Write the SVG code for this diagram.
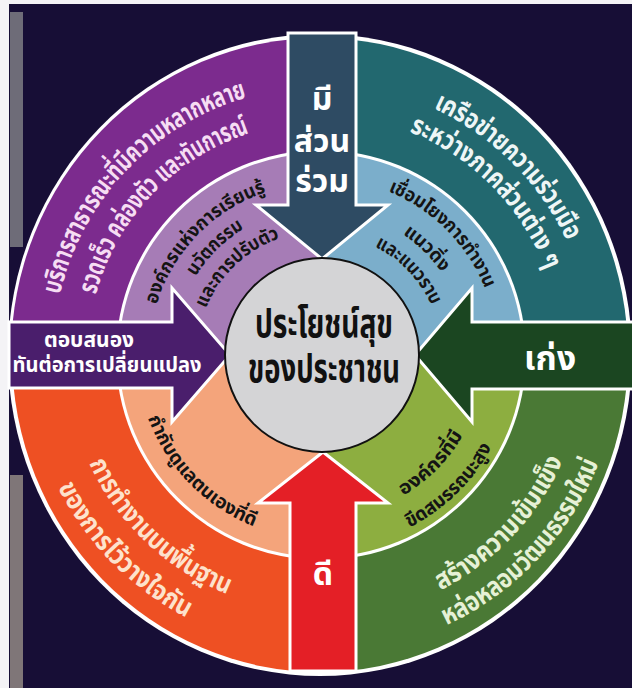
<svg xmlns="http://www.w3.org/2000/svg" width="632" height="688" viewBox="0 0 632 688">
<style>
.th{font-family:'Noto Sans Thai','Noto Sans Thai UI','Noto Sans','Loma','Garuda',sans-serif;font-weight:700}
.arw{stroke:#fff;stroke-width:3;stroke-linejoin:miter}
.in{fill:#141414;font-size:19px}
.out{font-size:27px}
.lab{fill:#fff}
</style>
<defs>
<path id="p1" d="M59.9,294.7 A268,268 0 0 1 251.6,96.1"/>
<path id="p2" d="M95.9,294.7 A233,233 0 0 1 252.9,132.2"/>
<path id="p3" d="M433.4,108.4 A271,271 0 0 1 567.6,242.6"/>
<path id="p4" d="M409.3,131.8 A240,240 0 0 1 546.4,272.5"/>
<path id="p5" d="M89,463.2 A257,257 0 0 0 229.3,595"/>
<path id="p6" d="M57.9,487.2 A295,295 0 0 0 187.5,618"/>
<path id="p7" d="M440.4,590.3 A264,264 0 0 0 564.1,457.8"/>
<path id="p8" d="M446.5,625.2 A298,298 0 0 0 600.2,459"/>
<path id="q1" d="M156.5,304.7 A172,172 0 0 1 267.8,191.4"/>
<path id="q2" d="M195.5,276.6 A148,148 0 0 1 244.8,228.1"/>
<path id="q3" d="M206,308.5 A124,124 0 0 1 280.6,237.8"/>
<path id="q4" d="M388.2,191.2 A177,177 0 0 1 485.6,289.8"/>
<path id="q5" d="M402.6,234 A146,146 0 0 1 442,273.4"/>
<path id="q6" d="M374.8,246.6 A121,121 0 0 1 431.5,305.8"/>
<path id="q7" d="M148.1,417.9 A184,184 0 0 0 255.1,526.8"/>
<path id="q8" d="M403.2,495.7 A163,163 0 0 0 463.2,434.8"/>
<path id="q9" d="M409.4,527.7 A194,194 0 0 0 492.5,445.8"/>
</defs>
<g id="background">
<rect x="0" y="0" width="632" height="688" fill="#170E36"/>
<rect x="0" y="0" width="632" height="4" fill="#F4F3F6"/>
<rect x="0" y="0" width="9" height="688" fill="#F4F3F6"/>
<rect x="10" y="12" width="13" height="235" fill="#6E6C78"/>
<rect x="10" y="475" width="13" height="213" fill="#7F7678"/>
</g>
<g id="outer-ring">
<ellipse cx="320" cy="355" rx="312" ry="321" fill="#FFFFFF"/>
<path id="sector-purple" d="M320,355 L11,355 A308,317 0 0 1 320,38 Z" fill="#7C2B8E"/>
<path id="sector-teal" d="M320,355 L320,38 A308,317 0 0 1 628,355 Z" fill="#22686F"/>
<path id="sector-green" d="M320,355 L628,355 A308,317 0 0 1 320,672 Z" fill="#4A7935"/>
<path id="sector-orange" d="M320,355 L320,672 A308,317 0 0 1 12,355 Z" fill="#EE5023"/>
</g>
<g id="inner-ring">
<circle cx="321" cy="355" r="205" fill="#FFFFFF"/>
<path id="sector-lavender" d="M321,355 L119,355 A202,202 0 0 1 321,153 Z" fill="#A67CB6"/>
<path id="sector-lightblue" d="M321,355 L321,153 A202,202 0 0 1 523,355 Z" fill="#7BAECB"/>
<path id="sector-lime" d="M321,355 L523,355 A202,202 0 0 1 321,557 Z" fill="#8DAE40"/>
<path id="sector-peach" d="M321,355 L321,557 A202,202 0 0 1 119,355 Z" fill="#F4A47B"/>
</g>
<g id="arrow-top">
<polygon class="arw" points="288,33 356,33 356,205 388,205 322,259 256,205 288,205" fill="#2E4B63"/>
<text class="th lab" font-size="32" text-anchor="middle" x="322" y="110">มี</text>
<text class="th lab" font-size="32" text-anchor="middle" x="322" y="152">ส่วน</text>
<text class="th lab" font-size="32" text-anchor="middle" x="322" y="192">ร่วม</text>
</g>
<g id="arrow-left">
<polygon class="arw" points="9,322 172,322 172,288 230,355 172,422 172,388 9,388" fill="#4A1E6C"/>
<text class="th lab" font-size="21" text-anchor="middle" x="89" y="347">ตอบสนอง</text>
<text class="th lab" font-size="21" text-anchor="middle" x="107" y="372" textLength="189" lengthAdjust="spacingAndGlyphs">ทันต่อการเปลี่ยนแปลง</text>
</g>
<g id="arrow-right">
<polygon class="arw" points="640,322 472,322 472,288 415,355 472,422 472,389 640,389" fill="#1B4621"/>
<text class="th lab" font-size="34" text-anchor="middle" x="550" y="370">เก่ง</text>
</g>
<g id="arrow-bottom">
<polygon class="arw" points="290,671 356,671 356,503 388,503 323,452 258,503 290,503" fill="#E41F26"/>
<text class="th lab" font-size="32" text-anchor="middle" x="323" y="585">ดี</text>
</g>
<g id="center">
<circle cx="322" cy="355" r="97" fill="#D4D4D6" stroke="#111" stroke-width="2"/>
<text class="th" fill="#111" font-size="39" text-anchor="middle" x="324" y="337" textLength="138" lengthAdjust="spacingAndGlyphs">ประโยชน์สุข</text>
<text class="th" fill="#111" font-size="39" text-anchor="middle" x="324" y="382" textLength="152" lengthAdjust="spacingAndGlyphs">ของประชาชน</text>
</g>
<g id="label-purple" class="th out" fill="#F6DDF3">
<text><textPath href="#p1" textLength="285" lengthAdjust="spacingAndGlyphs">บริการสาธารณะที่มีความหลากหลาย</textPath></text>
<text><textPath href="#p2" textLength="232" lengthAdjust="spacingAndGlyphs">รวดเร็ว คล่องตัว และทันการณ์</textPath></text>
</g>
<g id="label-teal" class="th out" fill="#EEF6F6">
<text><textPath href="#p3" textLength="192" lengthAdjust="spacingAndGlyphs">เครือข่ายความร่วมมือ</textPath></text>
<text><textPath href="#p4" textLength="200" lengthAdjust="spacingAndGlyphs">ระหว่างภาคส่วนต่าง ๆ</textPath></text>
</g>
<g id="label-orange" class="th out" fill="#FDE2CC">
<text><textPath href="#p5" textLength="195" lengthAdjust="spacingAndGlyphs">การทำงานบนพื้นฐาน</textPath></text>
<text><textPath href="#p6" textLength="186" lengthAdjust="spacingAndGlyphs">ของการไว้วางใจกัน</textPath></text>
</g>
<g id="label-green" class="th out" fill="#E6F1D6">
<text><textPath href="#p7" textLength="182" lengthAdjust="spacingAndGlyphs">สร้างความเข้มแข็ง</textPath></text>
<text><textPath href="#p8" textLength="228" lengthAdjust="spacingAndGlyphs">หล่อหลอมวัฒนธรรมใหม่</textPath></text>
</g>
<g id="label-lavender" class="th in">
<text><textPath href="#q1" textLength="163" lengthAdjust="spacingAndGlyphs">องค์กรแห่งการเรียนรู้</textPath></text>
<text><textPath href="#q2" textLength="69" lengthAdjust="spacingAndGlyphs">นวัตกรรม</textPath></text>
<text><textPath href="#q3" textLength="105" lengthAdjust="spacingAndGlyphs">และการปรับตัว</textPath></text>
</g>
<g id="label-lightblue" class="th in">
<text><textPath href="#q4" textLength="141" lengthAdjust="spacingAndGlyphs">เชื่อมโยงการทำงาน</textPath></text>
<text><textPath href="#q5" textLength="55" lengthAdjust="spacingAndGlyphs">แนวดิ่ง</textPath></text>
<text><textPath href="#q6" textLength="83" lengthAdjust="spacingAndGlyphs">และแนวราบ</textPath></text>
</g>
<g id="label-peach" class="th in">
<text><textPath href="#q7" textLength="156" lengthAdjust="spacingAndGlyphs">กำกับดูแลตนเองที่ดี</textPath></text>
</g>
<g id="label-lime" class="th in">
<text><textPath href="#q8" textLength="86" lengthAdjust="spacingAndGlyphs">องค์กรที่มี</textPath></text>
<text><textPath href="#q9" textLength="117" lengthAdjust="spacingAndGlyphs">ขีดสมรรถนะสูง</textPath></text>
</g>
</svg>
